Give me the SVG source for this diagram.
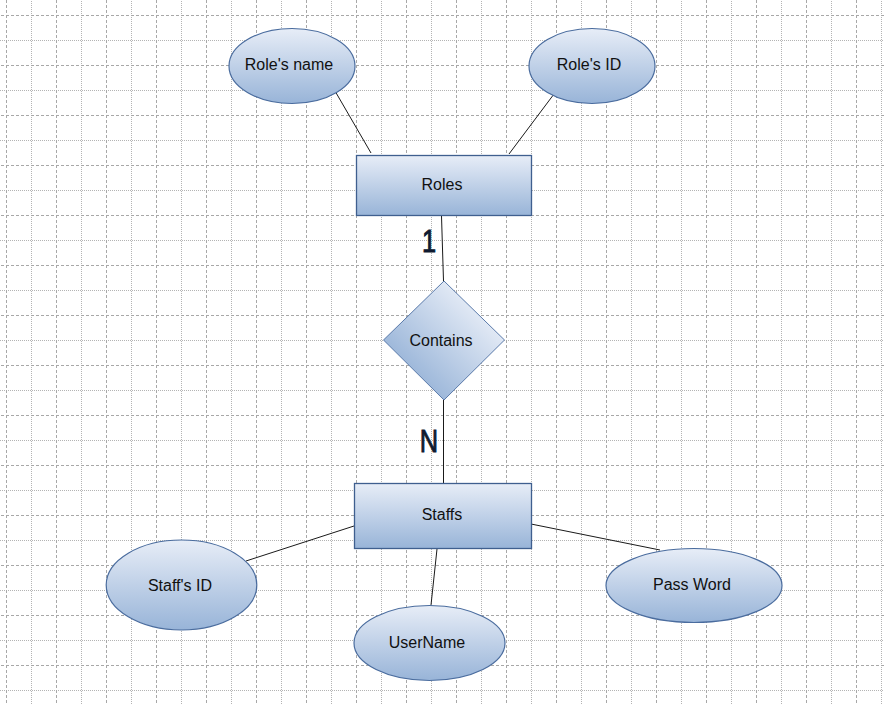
<svg xmlns="http://www.w3.org/2000/svg" width="884" height="704" viewBox="0 0 884 704">
<style>
.lbl{font-family:"Liberation Sans",Arial,sans-serif;font-size:16px;fill:#111;text-anchor:middle;dominant-baseline:central}
.card{font-family:"Liberation Sans",Arial,sans-serif;font-size:31px;fill:#0f1a30;stroke:#0f1a30;stroke-width:0.9;text-anchor:middle;dominant-baseline:central}
.ent{fill:url(#gv);stroke:#3f5f8f;stroke-width:1.3}
.att{fill:url(#gv);stroke:#4a6c9e;stroke-width:1.2}
.rel{fill:url(#gd);stroke:#5a7aaa;stroke-width:1}
.con{stroke:#1a1a1a;stroke-width:1;fill:none}
</style>
<defs>
<linearGradient id="gv" x1="0" y1="0" x2="0" y2="1">
<stop offset="0" stop-color="#e7edf7"/>
<stop offset="1" stop-color="#98b4d8"/>
</linearGradient>
<linearGradient id="gd" x1="0" y1="1" x2="1" y2="0">
<stop offset="0.2" stop-color="#98b4d8"/>
<stop offset="0.8" stop-color="#e7edf7"/>
</linearGradient>
<pattern id="grid" patternUnits="userSpaceOnUse" x="6" y="15" width="50" height="50">
<path d="M25.5 0V50M0 25.5H50" stroke="#b4b4b4" stroke-width="1" stroke-dasharray="1,1" fill="none"/>
<path d="M0.5 0V50M0 0.5H50" stroke="#a8a8a8" stroke-width="1" stroke-dasharray="3,2" fill="none"/>
</pattern>
</defs>
<rect width="884" height="704" fill="#ffffff"/>
<rect width="884" height="704" fill="url(#grid)"/>
<g id="connectors">
<line class="con" x1="335" y1="91" x2="371" y2="153"/>
<line class="con" x1="554" y1="94" x2="509" y2="154"/>
<line class="con" x1="441.5" y1="216" x2="443.5" y2="281"/>
<line class="con" x1="443.5" y1="400" x2="443.5" y2="483"/>
<line class="con" x1="246" y1="561" x2="354" y2="526"/>
<line class="con" x1="660" y1="550" x2="531" y2="524"/>
<line class="con" x1="437" y1="549" x2="431" y2="605"/>
<text class="card" transform="translate(429,241) scale(0.82,1)">1</text>
<text class="card" transform="translate(429,441) scale(0.82,1)">N</text>
</g>
<g id="roles-name">
<ellipse class="att" cx="292" cy="66" rx="63" ry="37.5"/>
<text class="lbl" x="289" y="64">Role's name</text>
</g>
<g id="roles-id">
<ellipse class="att" cx="592" cy="66" rx="63" ry="37.5"/>
<text class="lbl" x="589" y="64">Role's ID</text>
</g>
<g id="roles">
<rect class="ent" x="356.5" y="155.5" width="175" height="60"/>
<text class="lbl" x="442" y="184">Roles</text>
</g>
<g id="contains">
<polygon class="rel" points="444,281 504.5,340 444,400 383.5,340"/>
<text class="lbl" x="441" y="340">Contains</text>
</g>
<g id="staffs">
<rect class="ent" x="354.5" y="483.5" width="177" height="65"/>
<text class="lbl" x="442" y="514">Staffs</text>
</g>
<g id="staffs-id">
<ellipse class="att" cx="181.5" cy="585" rx="75.3" ry="45"/>
<text class="lbl" x="180" y="585">Staff's ID</text>
</g>
<g id="username">
<ellipse class="att" cx="429.5" cy="643" rx="75.5" ry="37.5"/>
<text class="lbl" x="427" y="642">UserName</text>
</g>
<g id="password">
<ellipse class="att" cx="694" cy="585.5" rx="88" ry="37"/>
<text class="lbl" x="692" y="584">Pass Word</text>
</g>
</svg>
